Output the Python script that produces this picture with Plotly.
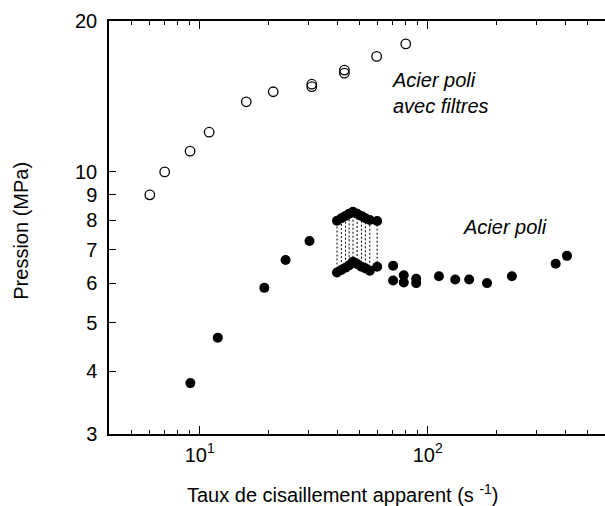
import plotly.graph_objects as go
import math

# ---- data ----
filt_x = [6.04, 7.02, 9.07, 11.0, 16.0, 21.0, 31.0, 31.0, 43.1, 43.1, 59.7, 80.1]
filt_y = [9.0, 10.0, 11.0, 12.0, 13.8, 14.45, 14.96, 14.79, 15.96, 15.74, 17.0, 18.0]

poli_x = [9.1, 12.0, 19.2, 23.8, 30.3, 70.5, 70.5, 78.5, 78.5, 89.0, 89.0, 112, 132, 152, 182, 234, 364, 408]
poli_y = [3.79, 4.67, 5.87, 6.67, 7.28, 6.50, 6.07, 6.22, 6.02, 6.12, 6.00, 6.19, 6.10, 6.10, 6.00, 6.19, 6.56, 6.80]

spurt_x = [40.0, 41.8, 43.6, 45.2, 47.0, 49.0, 51.2, 53.3, 55.7, 60.0]
spurt_low = [6.30, 6.37, 6.44, 6.51, 6.62, 6.55, 6.47, 6.42, 6.35, 6.47]
spurt_high = [7.99, 8.08, 8.17, 8.25, 8.33, 8.25, 8.17, 8.08, 8.02, 7.98]

y_ticks = [3, 4, 5, 6, 7, 8, 9, 10, 20]
x_major = [10, 100]
x_major_text = ["10<sup>1</sup>", "10<sup>2</sup>"]
x_minor = [5, 6, 7, 8, 9, 20, 30, 40, 50, 60, 70, 80, 90, 200, 300, 400, 500]

FONT = "Liberation Sans, Arial, sans-serif"

fig = go.Figure()

# dashed connectors for oscillating (spurt) regime
dx, dy = [], []
for x, lo, hi in zip(spurt_x, spurt_low, spurt_high):
    dx += [x, x, None]
    dy += [lo, hi, None]
fig.add_trace(go.Scatter(x=dx, y=dy, mode="lines",
                         line=dict(color="black", width=1, dash="2px,2px"),
                         showlegend=False, hoverinfo="skip"))

fig.add_trace(go.Scatter(x=filt_x, y=filt_y, mode="markers",
                         marker=dict(symbol="circle-open", size=9.5, color="black",
                                     line=dict(width=1.3, color="black")),
                         showlegend=False))

mk = dict(symbol="circle", size=10, color="black")
fig.add_trace(go.Scatter(x=poli_x, y=poli_y, mode="markers", marker=mk, showlegend=False))
fig.add_trace(go.Scatter(x=spurt_x, y=spurt_low, mode="markers", marker=mk, showlegend=False))
fig.add_trace(go.Scatter(x=spurt_x, y=spurt_high, mode="markers", marker=mk, showlegend=False))

xlo = math.log10(4)
xhi = xlo + 496 / 228.0

fig.update_layout(
    width=605, height=506,
    margin=dict(l=109, r=0, t=21, b=72),
    paper_bgcolor="white", plot_bgcolor="white",
    font=dict(family=FONT, size=20, color="black"),
    xaxis=dict(type="log", range=[xlo, xhi],
               tickvals=x_major, ticktext=x_major_text,
               ticks="inside", ticklen=8, tickwidth=1.2, tickcolor="black",
               minor=dict(tickvals=x_minor, ticks="inside", ticklen=4,
                          tickwidth=1.2, tickcolor="black", showgrid=False),
               showline=True, linecolor="black", linewidth=1.5, mirror="ticks",
               showgrid=False, zeroline=False,
               tickfont=dict(size=20, family=FONT), ticklabelstandoff=2),
    yaxis=dict(type="log", range=[math.log10(3), math.log10(20)],
               tickvals=y_ticks, ticktext=[str(v) for v in y_ticks],
               ticks="inside", ticklen=7, tickwidth=1.2, tickcolor="black",
               showline=True, linecolor="black", linewidth=1.5,
               showgrid=False, zeroline=False,
               tickfont=dict(size=20, family=FONT), ticklabelstandoff=6),
    yaxis2=dict(type="log", range=[math.log10(3), math.log10(20)],
                overlaying="y", side="right",
                tickvals=y_ticks, showticklabels=False,
                ticks="inside", ticklen=7, tickwidth=1.2, tickcolor="black",
                showline=False, showgrid=False, zeroline=False),
    annotations=[
        dict(text="<i>Acier poli<br>avec filtres</i>", xref="paper", yref="paper",
             x=0.5665, y=0.826, xanchor="left", yanchor="middle", align="left",
             showarrow=False, font=dict(size=20, family=FONT)),
        dict(text="<i>Acier poli</i>", xref="paper", yref="paper",
             x=0.7097, y=0.501, xanchor="left", yanchor="middle",
             showarrow=False, font=dict(size=20, family=FONT)),
        dict(text="Taux de cisaillement apparent (s <sup>-1</sup>)", xref="paper", yref="paper",
             x=0.4718, y=-0.145, xanchor="center", yanchor="middle",
             showarrow=False, font=dict(size=20, family=FONT)),
        dict(text="Pression (MPa)", xref="paper", yref="paper", textangle=-90,
             x=-0.178, y=0.4915, xanchor="center", yanchor="middle",
             showarrow=False, font=dict(size=20, family=FONT)),
    ],
)

fig.write_html("out.html", config={"displayModeBar": False},
               post_script="document.body.style.margin='0';document.body.style.overflow='hidden';")
